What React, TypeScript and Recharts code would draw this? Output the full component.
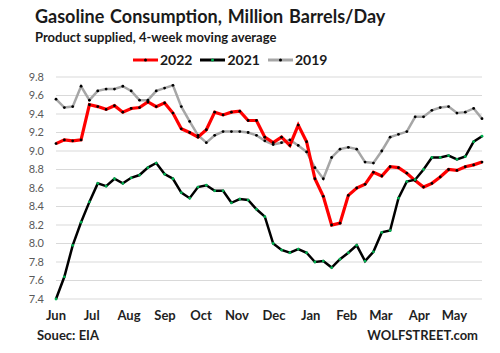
import { CartesianGrid, Line, LineChart, XAxis, YAxis } from "recharts";

// weekly 4-week moving average, Jun -> May (52 weeks)
const S2022 = [9.08, 9.12, 9.11, 9.12, 9.50, 9.48, 9.45, 9.49, 9.42, 9.46, 9.47, 9.53, 9.48, 9.52, 9.41, 9.24, 9.20, 9.15, 9.23, 9.42, 9.39, 9.42, 9.43, 9.33, 9.33, 9.15, 9.09, 9.15, 9.06, 9.28, 9.10, 8.70, 8.51, 8.20, 8.22, 8.52, 8.60, 8.64, 8.77, 8.73, 8.83, 8.82, 8.76, 8.68, 8.61, 8.65, 8.72, 8.80, 8.79, 8.83, 8.85, 8.88];
const S2021 = [7.40, 7.64, 7.98, 8.23, 8.45, 8.65, 8.62, 8.70, 8.65, 8.71, 8.74, 8.82, 8.87, 8.75, 8.70, 8.55, 8.49, 8.61, 8.63, 8.57, 8.57, 8.44, 8.48, 8.47, 8.37, 8.29, 8.00, 7.93, 7.90, 7.94, 7.90, 7.80, 7.81, 7.74, 7.83, 7.90, 7.98, 7.81, 7.91, 8.12, 8.14, 8.49, 8.67, 8.69, 8.80, 8.93, 8.93, 8.95, 8.91, 8.94, 9.10, 9.16];
const S2019 = [9.56, 9.47, 9.48, 9.70, 9.55, 9.65, 9.67, 9.67, 9.70, 9.65, 9.55, 9.55, 9.65, 9.68, 9.71, 9.48, 9.32, 9.17, 9.09, 9.17, 9.21, 9.21, 9.21, 9.20, 9.17, 9.11, 9.07, 9.09, 9.12, 9.06, 8.99, 8.82, 8.70, 8.93, 9.02, 9.04, 9.02, 8.88, 8.87, 9.00, 9.15, 9.18, 9.21, 9.37, 9.37, 9.44, 9.47, 9.48, 9.41, 9.42, 9.46, 9.35];

const MONTHS = ["Jun", "Jul", "Aug", "Sep", "Oct", "Nov", "Dec", "Jan", "Feb", "Mar", "Apr", "May"];
const MONTH_WEEKS = [0, 4.27, 8.74, 13.05, 17.36, 21.67, 26.1, 30.5, 34.8, 38.9, 43.5, 47.7];
const Y_TICKS = [7.4, 7.6, 7.8, 8.0, 8.2, 8.4, 8.6, 8.8, 9.0, 9.2, 9.4, 9.6, 9.8];

const DATA = S2022.map((v, i) => ({ i, s2022: v, s2021: S2021[i], s2019: S2019[i] }));

const LEGEND = [
  { name: "2022", color: "#ff0000", dot: "#000" },
  { name: "2021", color: "#000000", dot: "#00b050" },
  { name: "2019", color: "#a6a6a6", dot: "#000" },
];

const FONT = "Lato, 'Open Sans', sans-serif";

const monthLabel = (v: number) => {
  const k = MONTH_WEEKS.indexOf(v);
  return k >= 0 ? MONTHS[k] : "";
};

export default function App() {
  return (
    <div style={{ position: "absolute", left: 0, top: 0, width: 500, height: 353, background: "#fff", fontFamily: FONT }}>
      <div style={{ position: "absolute", left: 35, top: 5, fontSize: 18, fontWeight: 700, color: "#1a1a1a", wordSpacing: 1.5, whiteSpace: "nowrap" }}>
        Gasoline Consumption, Million Barrels/Day
      </div>
      <div style={{ position: "absolute", left: 35, top: 29, fontSize: 13, fontWeight: 700, color: "#1a1a1a", whiteSpace: "nowrap" }}>
        Product supplied, 4-week moving average
      </div>
      <div style={{ position: "absolute", left: 133, top: 51, display: "flex", alignItems: "center", fontSize: 14, fontWeight: 700, color: "#1a1a1a" }}>
        {LEGEND.map((l) => (
          <div key={l.name} style={{ display: "flex", alignItems: "center", marginRight: 8 }}>
            <svg width={25} height={8}>
              <line x1={0} y1={4} x2={25} y2={4} stroke={l.color} strokeWidth={3} />
              <circle cx={12.5} cy={4} r={1.5} fill={l.dot} />
            </svg>
            <span style={{ marginLeft: 2 }}>{l.name}</span>
          </div>
        ))}
      </div>

      <LineChart width={500} height={353} data={DATA} margin={{ top: 77, right: 18, left: 0, bottom: 24 }}>
        <CartesianGrid vertical={false} stroke="#d9d9d9" strokeWidth={1} />
        <XAxis
          dataKey="i"
          type="number"
          domain={[0, 51]}
          ticks={MONTH_WEEKS}
          interval={0}
          tickFormatter={monthLabel}
          axisLine={false}
          tickLine={false}
          tickSize={0}
          tickMargin={12}
          height={30}
          tick={{ fontSize: 13, fontWeight: 700, fill: "#1f1f1f", fontFamily: FONT }}
        />
        <YAxis
          type="number"
          domain={[7.4, 9.8]}
          ticks={Y_TICKS}
          interval={0}
          tickFormatter={(v: number) => v.toFixed(1)}
          axisLine={false}
          tickLine={false}
          tickSize={0}
          tickMargin={12}
          width={56}
          tick={{ fontSize: 11, fill: "#595959", fontFamily: FONT }}
        />
        <Line dataKey="s2019" stroke="#a6a6a6" strokeWidth={2.5} dot={{ r: 1.4, fill: "#000", stroke: "none" }} activeDot={false} isAnimationActive={false} />
        <Line dataKey="s2022" stroke="#ff0000" strokeWidth={3.2} dot={{ r: 1.4, fill: "#000", stroke: "none" }} activeDot={false} isAnimationActive={false} />
        <Line dataKey="s2021" stroke="#000000" strokeWidth={2.5} dot={{ r: 1.4, fill: "#00b050", stroke: "none" }} activeDot={false} isAnimationActive={false} />
      </LineChart>

      <div style={{ position: "absolute", left: 37, top: 327, fontSize: 13, fontWeight: 700, color: "#1f1f1f" }}>Souec: EIA</div>
      <div style={{ position: "absolute", right: 22, top: 327, fontSize: 13, fontWeight: 700, color: "#1f1f1f" }}>WOLFSTREET.com</div>
    </div>
  );
}
